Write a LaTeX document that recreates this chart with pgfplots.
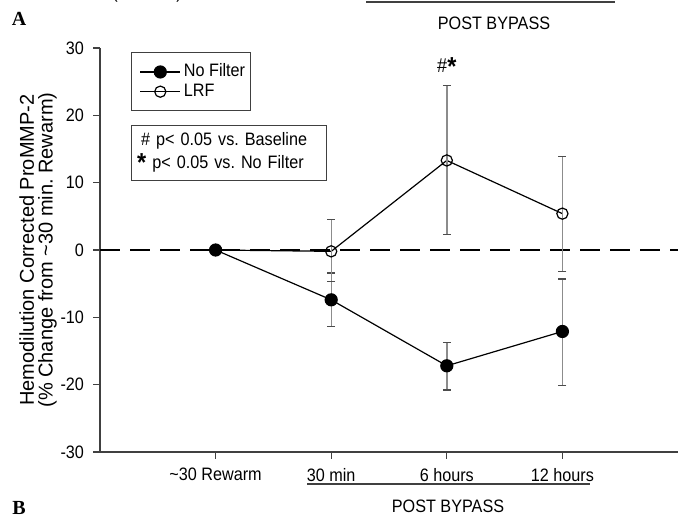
\documentclass[border=0pt]{standalone}
\usepackage{pgfplots}
\pgfplotsset{compat=1.18}
\usepackage{fontspec}
\setmainfont[FakeStretch=0.9]{Liberation Sans}
\newfontfamily\plainsans{Liberation Sans}
\newfontfamily\seriffont{Liberation Serif}
\newcommand{\bstar}{\raisebox{-0.3ex}{\fontsize{13}{13}\selectfont\textbf{*}}}
\newcommand{\fs}{\fontsize{9}{10.5}\selectfont}
\frenchspacing
\begin{document}
\begin{tikzpicture}[x=0.5pt,y=0.5pt]
\useasboundingbox (0,0) rectangle (678,518);
\clip (0,0) rectangle (678,518);
% top decorations (from panel above)
\node[font=\fs] at (147,524) {(PreCPB)};
\draw[line width=0.7pt, black!75] (366,516) -- (615,516);
\node[font=\fs] at (494,495) {POST BYPASS};
\node[font=\seriffont\bfseries\fontsize{10}{12}\selectfont] at (19,499) {A};
% bottom decorations
\draw[line width=0.7pt, black!75] (307,34) -- (590,34);
\node[font=\fs] at (448,12) {POST BYPASS};
\node[font=\seriffont\bfseries\fontsize{10}{12}\selectfont] at (19,10) {B};
\begin{axis}[
  at={(50pt,33pt)}, anchor=south west, scale only axis,
  width=289pt, height=202pt,
  xmin=-1, xmax=4, ymin=-30, ymax=30,
  axis x line=bottom, axis y line=left,
  axis line style={-, black!75, line width=0.6pt},
  tick align=outside, major tick length=3.5pt,
  tick style={black!75, line width=0.6pt},
  xtick={0,1,2,3},
  xticklabels={{\textasciitilde30 Rewarm},{30 min},{6 hours},{12 hours}},
  ytick={-30,-20,-10,0,10,20,30},
  /pgf/number format/assume math mode=true,
  tick label style={font=\fs},
  xticklabel style={yshift=-1pt},
  yticklabel style={xshift=-1pt},
  ylabel={Hemodilution Corrected ProMMP-2\\(\% Change from \textasciitilde30 min. Rewarm)},
  ylabel style={align=center, font=\plainsans\fontsize{10}{9.4}\selectfont,
    at={(axis description cs:-0.107,0.5)}, anchor=center},
  legend style={at={(0.054,0.99)}, anchor=north west, draw=black!75,
    line width=0.5pt, font=\fs,
    inner xsep=1pt, inner ysep=4.7pt, row sep=0pt,
    nodes={inner xsep=1.5pt, inner ysep=1pt}},
  legend image code/.code={\path (0pt,0pt);
    \draw[mark repeat=2,mark phase=2,#1]
    plot coordinates {(3pt,0pt) (13pt,0pt) (23pt,0pt)};},
  legend cell align=left,
  clip=false,
]
\addplot[black, line width=0.8pt, dash pattern=on 10pt off 5pt, forget plot]
  coordinates {(-1,0) (4,0)};
\addplot[black, line width=0.6pt, mark=*, mark size=3pt,
  mark options={solid, fill=black},
  error bars/.cd, y dir=both, y explicit,
  error bar style={black!45, line width=0.7pt},
  error mark options={black!70, line width=0.7pt, mark size=2pt, rotate=90}]
  coordinates {
   (0,0) +- (0,0)
   (1,-7.4) += (0,4.0) -= (0,4.0)
   (2,-17.2) += (0,3.5) -= (0,3.6)
   (3,-12.1) += (0,7.8) -= (0,8.0)
  };
\addlegendentry{No Filter}
\addplot[black, line width=0.6pt, mark=o, mark size=2.8pt,
  mark options={solid, fill=white},
  error bars/.cd, y dir=both, y explicit,
  error bar style={black!45, line width=0.7pt},
  error mark options={black!70, line width=0.7pt, mark size=2pt, rotate=90}]
  coordinates {
   (0,0) +- (0,0)
   (1,-0.2) += (0,4.7) -= (0,4.5)
   (2,13.3) += (0,11.1) -= (0,11.0)
   (3,5.4) += (0,8.5) -= (0,8.6)
  };
\addlegendentry{LRF}
\node[font=\fontsize{10}{11}\selectfont, anchor=south] at (axis cs:2,24.9) {\#\bstar};
\node[draw=black!75, line width=0.5pt, anchor=north west, align=left,
  font=\fontsize{9}{11.5}\selectfont, inner xsep=2pt, inner ysep=2.5pt,
  minimum width=97.5pt, minimum height=27.5pt, text width=92pt]
  at (axis description cs:0.054,0.81) {\hspace*{2pt}\# p< 0.05 vs. Baseline\\\bstar\ p< 0.05 vs. No Filter};
\end{axis}
\end{tikzpicture}
\end{document}
